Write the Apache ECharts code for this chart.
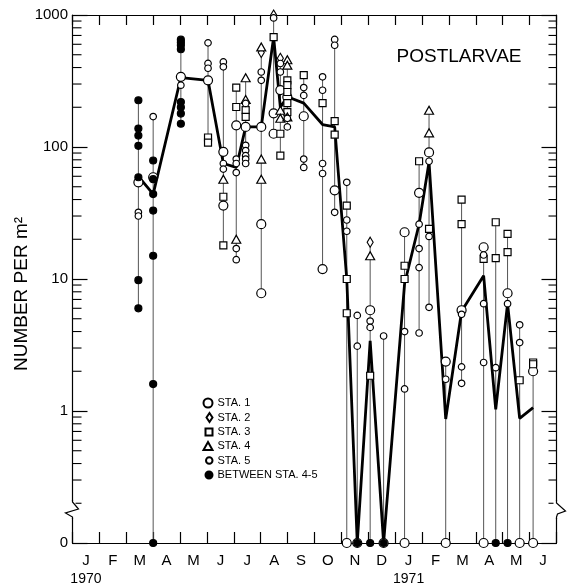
<!DOCTYPE html>
<html>
<head>
<meta charset="utf-8">
<title>Postlarvae</title>
<script src="https://cdn.jsdelivr.net/npm/echarts@6/dist/echarts.min.js"></script>
<style>
  html, body { margin: 0; padding: 0; background: #fff; }
  #main { width: 568px; height: 587px; }
</style>
</head>
<body>
<div id="main"></div>
<script>
// x = months since 1 Jan 1970, y = number per m2 (0 = none caught, drawn on the broken part of the axis)
var monthKeys = ['1970-01','1970-02','1970-03','1970-04','1970-05','1970-06','1970-07','1970-08','1970-09',
                 '1970-10','1970-11','1970-12','1971-01','1971-02','1971-03','1971-04','1971-05','1971-06'];
var monthLetters = ['J','F','M','A','M','J','J','A','S','O','N','D','J','F','M','A','M','J'];
var yearLabels = {0: '1970', 12: '1971'};

var sta1 = [[2.45,54],[3.00,59],[4.03,340],[5.04,320],[5.61,92],[5.61,36],[6.09,146],[6.44,142],[7.02,142],
  [7.02,26],[7.02,7.8],[7.48,180],[7.48,126],[7.73,270],[7.99,239],[8.60,171],[9.30,11.9],[9.75,47],[10.20,0],
  [10.59,0],[11.07,5.8],[11.57,0],[12.35,22.6],[12.35,0],[12.89,45],[13.26,91],[13.88,2.37],[13.88,0],[14.47,5.8],
  [15.29,17.4],[15.29,0],[16.18,7.8],[16.63,0],[17.13,2.0],[17.13,0]];
var sta2 = [[7.02,520],[7.48,1000],[7.73,470],[11.07,19]];
var sta3 = [[5.04,118],[5.04,108],[5.61,42],[5.61,18],[6.09,282],[6.09,201],[6.44,190],[6.44,169],[7.48,680],
  [7.73,126],[7.73,86],[7.99,320],[7.99,294],[7.99,261],[7.99,215],[7.99,184],[8.60,350],[9.30,215],[9.75,157],
  [9.75,124],[10.20,36],[10.20,10],[10.20,5.5],[11.07,1.85],[12.35,12.6],[12.35,10],[12.89,78],[13.26,24],
  [14.47,40],[14.47,26],[15.29,14.2],[15.74,26.9],[15.74,14.4],[16.18,22],[16.18,16],[16.63,1.71],[17.13,2.33],
  [17.13,2.26]];
var sta4 = [[5.61,57],[6.09,20],[6.44,335],[6.44,229],[7.02,573],[7.02,81],[7.02,57],[7.73,190],[7.73,165],
  [7.99,458],[7.99,417],[7.99,169],[11.07,15],[13.26,190],[13.26,128]];
var sta5 = [[2.45,32],[2.45,30],[3.00,170],[4.03,294],[5.04,615],[5.04,430],[5.04,395],[5.61,441],[5.61,405],
  [5.61,75],[5.61,68],[6.09,81],[6.09,75],[6.09,64],[6.09,17],[6.09,14],[6.44,214],[6.44,103],[6.44,94],[6.44,86],
  [6.44,81],[6.44,75],[7.02,370],[7.02,320],[7.48,950],[7.73,429],[7.73,370],[7.99,165],[7.99,142],[8.60,282],
  [8.60,246],[8.60,81],[8.60,70],[9.30,340],[9.30,269],[9.30,75],[9.30,63],[9.75,653],[9.75,590],[9.75,32],
  [10.20,54],[10.20,28],[10.20,23],[10.59,5.3],[10.59,3.1],[11.07,4.8],[11.07,4.3],[11.57,3.7],[12.35,4.0],
  [12.35,1.47],[12.89,26],[12.89,17],[12.89,12.2],[12.89,3.9],[13.26,78],[13.26,21],[13.26,6.1],[13.88,1.74],
  [14.47,5.4],[14.47,2.16],[14.47,1.62],[15.29,15.2],[15.29,6.5],[15.29,2.33],[15.74,2.13],[16.18,6.5],
  [16.63,4.5],[16.63,3.3]];
var between45 = [[2.45,226],[2.45,138],[2.45,122],[2.45,102],[2.45,59],[2.45,9.8],[2.45,6],[3.00,79],[3.00,57],
  [3.00,44],[3.00,33],[3.00,15],[3.00,1.6],[3.00,0],[4.03,650],[4.03,620],[4.03,590],[4.03,550],[4.03,219],
  [4.03,200],[4.03,179],[4.03,150],[10.59,0],[11.07,0],[11.57,0],[15.74,0],[16.18,0]];

// heavy line through the sampling dates
var meanLine = [[2.45,60],[3.00,44],[4.03,336],[5.04,320],[5.61,75],[6.09,70],[6.44,142],[7.02,142],[7.48,680],
  [7.73,200],[7.99,240],[8.60,215],[9.30,148],[9.75,142],[10.20,10],[10.59,0],[11.07,3.4],[11.57,0],[12.35,9.2],
  [12.89,26],[13.26,77],[13.88,0.87],[14.47,5.7],[15.29,10.6],[15.74,1.03],[16.18,6.5],[16.63,0.88],[17.13,1.06]];

var minorTicks = [0.2,0.3,0.4,0.5,0.6,0.7,0.8,0.9, 2,3,4,5,6,7,8,9, 20,30,40,50,60,70,80,90,
  200,300,400,500,600,700,800,900];

var ZERO_AT = 0.1;   // zero sits where 0.1 would be on the log scale
function toAxis(p) { return [p[0], p[1] === 0 ? ZERO_AT : p[1]]; }

// vertical range line for each sampling date
var ranges = (function () {
  var byDate = {};
  [sta1, sta2, sta3, sta4, sta5, between45].forEach(function (s) {
    s.forEach(function (p) {
      var v = p[1] === 0 ? ZERO_AT : p[1];
      var r = byDate[p[0]];
      if (!r) byDate[p[0]] = [p[0], v, v];
      else { r[1] = Math.min(r[1], v); r[2] = Math.max(r[2], v); }
    });
  });
  return Object.keys(byDate).map(function (k) { return byDate[k]; });
})();

var FONT = 'Liberation Sans, Arial, sans-serif';
var black = '#000';

var chart = echarts.init(document.getElementById('main'));

function markerSeries(name, data, symbol, size, filled) {
  return {
    name: name, type: 'scatter', xAxisIndex: 1, yAxisIndex: 0,
    data: data.map(toAxis), symbol: symbol, symbolSize: size, z: 5,
    itemStyle: { color: filled ? black : '#fff', borderColor: black, borderWidth: 1.2, opacity: 1 },
    emphasis: { disabled: true }
  };
}

function legendFor(name, yc, w, h) {
  return {
    data: [name], left: 211.5 - w, top: yc - 6.5, padding: 0, itemGap: 0,
    itemWidth: w, itemHeight: h, selectedMode: false,
    textStyle: { fontFamily: FONT, fontSize: 11, color: black, lineHeight: 13 }
  };
}

var option = {
  animation: false,
  backgroundColor: '#fff',
  grid: { left: 72.5, right: 11.5, top: 15, bottom: 44, outerBoundsMode: 'none' },
  legend: [
    legendFor('STA. 1', 403, 9, 9),
    legendFor('STA. 2', 417.5, 6, 9),
    legendFor('STA. 3', 432, 7, 7),
    legendFor('STA. 4', 446, 9, 8),
    legendFor('STA. 5', 460.5, 6.5, 6.5),
    legendFor('BETWEEN STA. 4-5', 475, 7, 7)
  ],
  xAxis: [
    {
      type: 'category', position: 'bottom', data: monthKeys, boundaryGap: true,
      axisLine: { show: true, lineStyle: { color: black, width: 1.2 } },
      axisTick: { show: true, inside: true, length: 11, interval: 0, lineStyle: { color: black, width: 1.2 } },
      axisLabel: {
        interval: 0, margin: 9, color: black,
        formatter: function (val, idx) {
          var s = '{m|' + monthLetters[idx] + '}';
          if (yearLabels[idx]) s += '\n{y|' + yearLabels[idx] + '}';
          return s;
        },
        rich: {
          m: { fontFamily: FONT, fontSize: 15, lineHeight: 18, color: black },
          y: { fontFamily: FONT, fontSize: 14, lineHeight: 18, color: black }
        }
      },
      splitLine: { show: false }
    },
    {
      type: 'value', position: 'top', min: 0, max: 18, interval: 1,
      axisLine: { show: true, lineStyle: { color: black, width: 1.2 } },
      axisTick: { show: true, inside: true, length: 10, lineStyle: { color: black, width: 1.2 } },
      axisLabel: { show: false }, splitLine: { show: false }
    }
  ],
  yAxis: [
    {
      type: 'log', logBase: 10, min: 0.1, max: 1000, position: 'left',
      axisLine: { show: true, lineStyle: { color: black, width: 1.2 } },
      axisTick: { show: true, inside: true, length: 15, lineStyle: { color: black, width: 1.2 } },
      axisLabel: {
        margin: 4.5, color: black, fontFamily: FONT, fontSize: 15,
        formatter: function (v) { return v < 0.5 ? '0' : String(Math.round(v)); }
      },
      splitLine: { show: false }
    },
    {
      type: 'log', logBase: 10, min: 0.1, max: 1000, position: 'right',
      axisLine: { show: true, lineStyle: { color: black, width: 1.2 } },
      axisTick: { show: true, inside: true, length: 15, lineStyle: { color: black, width: 1.2 } },
      axisLabel: { show: false }, splitLine: { show: false }
    }
  ],
  graphic: [
    {
      type: 'text', x: 22, y: 294, rotation: Math.PI / 2,
      style: { text: 'NUMBER PER m\u00b2', font: '19px ' + FONT, fill: black,
               align: 'center', verticalAlign: 'middle', textAlign: 'center', textVerticalAlign: 'middle' }
    },
    {
      type: 'text', x: 459, y: 57,
      style: { text: 'POSTLARVAE', font: '19px ' + FONT, fill: black,
               align: 'center', verticalAlign: 'middle', textAlign: 'center', textVerticalAlign: 'middle' }
    }
  ],
  series: [
    {
      name: 'ranges', type: 'custom', xAxisIndex: 1, yAxisIndex: 0, z: 2,
      data: ranges, encode: { x: 0, y: [1, 2] }, silent: true,
      renderItem: function (params, api) {
        var top = api.coord([api.value(0), api.value(2)]);
        var bot = api.coord([api.value(0), api.value(1)]);
        return { type: 'line', shape: { x1: top[0], y1: top[1], x2: bot[0], y2: bot[1] },
                 style: { stroke: '#555', lineWidth: 1 } };
      }
    },
    {
      name: 'mean', type: 'line', xAxisIndex: 1, yAxisIndex: 0, z: 3,
      data: meanLine.map(toAxis), symbol: 'none', silent: true,
      lineStyle: { color: black, width: 2.8 }
    },
    markerSeries('STA. 1', sta1, 'circle', 9, false),
    markerSeries('STA. 2', sta2, 'diamond', [6, 10], false),
    markerSeries('STA. 3', sta3, 'rect', 7, false),
    markerSeries('STA. 4', sta4, 'triangle', [9, 8], false),
    markerSeries('STA. 5', sta5, 'circle', 6.5, false),
    markerSeries('BETWEEN STA. 4-5', between45, 'circle', 7, true),
    {
      name: 'minor ticks', type: 'custom', xAxisIndex: 1, yAxisIndex: 0, z: 4, silent: true,
      data: minorTicks.map(function (v) { return [0, v]; }), encode: { x: 0, y: 1 },
      renderItem: function (params, api) {
        var v = api.value(1);
        var l = api.coord([0, v]), r = api.coord([18, v]);
        var st = { stroke: black, lineWidth: 1.1 };
        return { type: 'group', children: [
          { type: 'line', shape: { x1: l[0], y1: l[1], x2: l[0] + 9, y2: l[1] }, style: st },
          { type: 'line', shape: { x1: r[0], y1: r[1], x2: r[0] - 8, y2: r[1] }, style: st }
        ] };
      }
    },
    {
      name: 'axis break', type: 'custom', xAxisIndex: 1, yAxisIndex: 0, z: 6, silent: true,
      data: [[0, ZERO_AT]], encode: { x: 0, y: 1 },
      renderItem: function (params, api) {
        var l = api.coord([0, ZERO_AT]), r = api.coord([18, ZERO_AT]);
        var st = { stroke: black, lineWidth: 1.2, fill: null };
        var y = l[1];
        return { type: 'group', children: [
          { type: 'rect', shape: { x: l[0] - 3, y: y - 42, width: 6, height: 17 }, style: { fill: '#fff' } },
          { type: 'rect', shape: { x: r[0] - 3, y: y - 42, width: 6, height: 17 }, style: { fill: '#fff' } },
          { type: 'polyline', shape: { points: [[l[0], y - 43], [l[0], y - 41], [l[0] + 6, y - 34],
              [l[0] - 7, y - 30], [l[0], y - 26], [l[0], y - 24]] }, style: st },
          { type: 'polyline', shape: { points: [[r[0], y - 43], [r[0], y - 40], [r[0] + 9, y - 32],
              [r[0] + 1, y - 29], [r[0], y - 26], [r[0], y - 24]] }, style: st }
        ] };
      }
    }
  ]
};

chart.setOption(option);
</script>
</body>
</html>
